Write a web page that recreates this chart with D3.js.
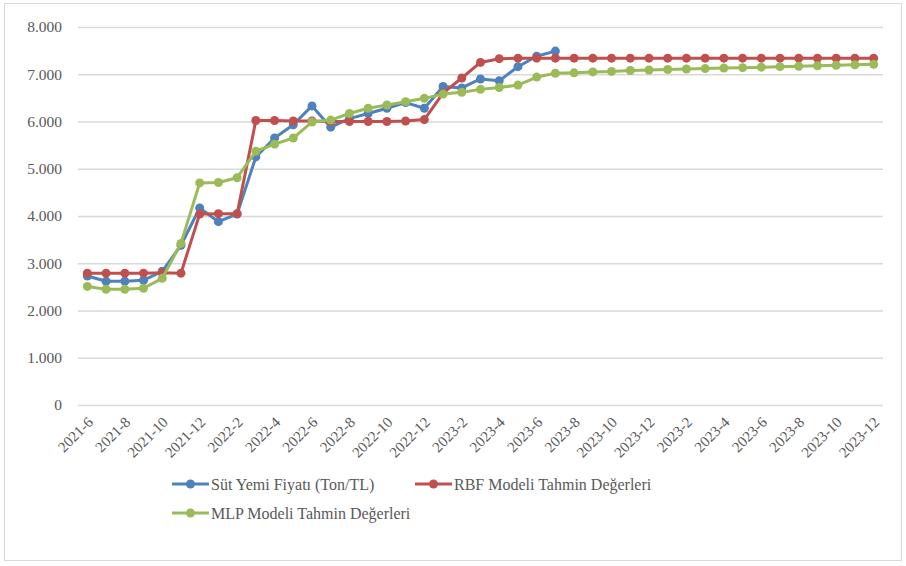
<!DOCTYPE html>
<html>
<head>
<meta charset="utf-8">
<script src="https://cdn.jsdelivr.net/npm/d3@7"></script>
<style>
  body { margin: 0; background: #fff; }
  svg { display: block; }
  svg text { font-family: "Liberation Serif", "Times New Roman", Tinos, "DejaVu Serif", serif !important; }
</style>
</head>
<body>
<svg id="chart" width="906" height="566"></svg>
<script>
// monthly categories (the source repeats "2023-" for the last year)
const months = [
  "2021-6","2021-7","2021-8","2021-9","2021-10","2021-11","2021-12",
  "2022-1","2022-2","2022-3","2022-4","2022-5","2022-6","2022-7","2022-8","2022-9","2022-10","2022-11","2022-12",
  "2023-1","2023-2","2023-3","2023-4","2023-5","2023-6","2023-7","2023-8","2023-9","2023-10","2023-11","2023-12",
  "2023-1","2023-2","2023-3","2023-4","2023-5","2023-6","2023-7","2023-8","2023-9","2023-10","2023-11","2023-12"
];
const yTicks = [0, 1000, 2000, 3000, 4000, 5000, 6000, 7000, 8000];

// Süt yemi fiyatı (actual), only until 2023-7
const sutYemi = [2730, 2620, 2620, 2640, 2830, 3380, 4170, 3880, 4040, 5250, 5650, 5930, 6330, 5880, 6060,
  6170, 6280, 6400, 6280, 6740, 6710, 6900, 6860, 7160, 7380, 7490];
const rbf = [2790, 2790, 2790, 2790, 2800, 2790, 4040, 4050, 4050, 6020, 6020, 6010, 6010, 6000, 6000,
  6000, 6000, 6010, 6040, 6600, 6920, 7250, 7330, 7340, 7340, 7340, 7340, 7340, 7340, 7340, 7340,
  7340, 7340, 7340, 7340, 7340, 7340, 7340, 7340, 7340, 7340, 7340, 7340];
const mlp = [2510, 2450, 2450, 2470, 2680, 3420, 4700, 4710, 4810, 5370, 5520, 5650, 5990, 6030, 6170,
  6280, 6350, 6420, 6490, 6580, 6620, 6680, 6720, 6770, 6940, 7020, 7030, 7050, 7060, 7080, 7090,
  7100, 7110, 7120, 7130, 7140, 7150, 7160, 7170, 7180, 7190, 7200, 7210];

const series = [
  {name: "Süt Yemi Fiyatı (Ton/TL)", values: sutYemi, color: "#4f81bd"},
  {name: "RBF Modeli Tahmin Değerleri", values: rbf, color: "#c0504d"},
  {name: "MLP Modeli Tahmin Değerleri", values: mlp, color: "#9bbb59"}
];

const svg = d3.select('#chart');
const plot = {left: 78, right: 883, top: 27, bottom: 405};

svg.append('rect')
  .attr('x', 4.5).attr('y', 3.5).attr('width', 897).attr('height', 557)
  .attr('fill', '#fff').attr('stroke', '#d9d9d9');

const x = d3.scalePoint()
  .domain(d3.range(months.length))
  .range([plot.left, plot.right])
  .padding(0.5);
const y = d3.scaleLinear().domain([0, 8000]).range([plot.bottom, plot.top]);

const fmt = v => d3.format(',')(v).replace(/,/g, '.');

// gridlines + y labels
const yAxis = svg.append('g')
  .attr('transform', `translate(${plot.left},0)`)
  .call(d3.axisLeft(y).tickValues(yTicks).tickFormat(fmt)
    .tickSize(-(plot.right - plot.left)).tickPadding(16));
yAxis.select('.domain').remove();
yAxis.attr('font-family', null);
yAxis.selectAll('.tick line').attr('stroke', '#d9d9d9').attr('stroke-width', 1.3);
yAxis.selectAll('.tick text').attr('fill', '#595959').attr('font-size', 15.5);

// x labels, every second month
const xAxis = svg.append('g')
  .attr('transform', `translate(0,${plot.bottom})`)
  .call(d3.axisBottom(x).tickValues(d3.range(0, months.length, 2))
    .tickFormat(i => months[i]).tickSize(0));
xAxis.select('.domain').remove();
xAxis.attr('font-family', null);
xAxis.selectAll('.tick text')
  .attr('fill', '#595959').attr('font-size', 15)
  .attr('text-anchor', 'end')
  .attr('dy', 0)
  .attr('transform', 'translate(4,16) rotate(-45)');

// lines and markers
const line = d3.line().x((d, i) => x(i)).y(d => y(d));
series.forEach(s => {
  const g = svg.append('g');
  g.append('path').datum(s.values)
    .attr('d', line).attr('fill', 'none')
    .attr('stroke', s.color).attr('stroke-width', 3).attr('stroke-linejoin', 'round');
  g.selectAll('circle').data(s.values).join('circle')
    .attr('cx', (d, i) => x(i)).attr('cy', d => y(d)).attr('r', 4.5)
    .attr('fill', s.color);
});

// legend
const legendPos = [[172, 484], [415, 484], [172, 513]];
series.forEach((s, k) => {
  const [lx, ly] = legendPos[k];
  const g = svg.append('g').attr('transform', `translate(${lx},${ly})`);
  g.append('line').attr('x1', 0).attr('x2', 37).attr('stroke', s.color).attr('stroke-width', 3);
  g.append('circle').attr('cx', 18.5).attr('r', 4.5).attr('fill', s.color);
  g.append('text').attr('x', 39).attr('dy', '0.35em')
    .attr('font-size', 16).attr('fill', '#595959').text(s.name);
});
</script>
</body>
</html>
